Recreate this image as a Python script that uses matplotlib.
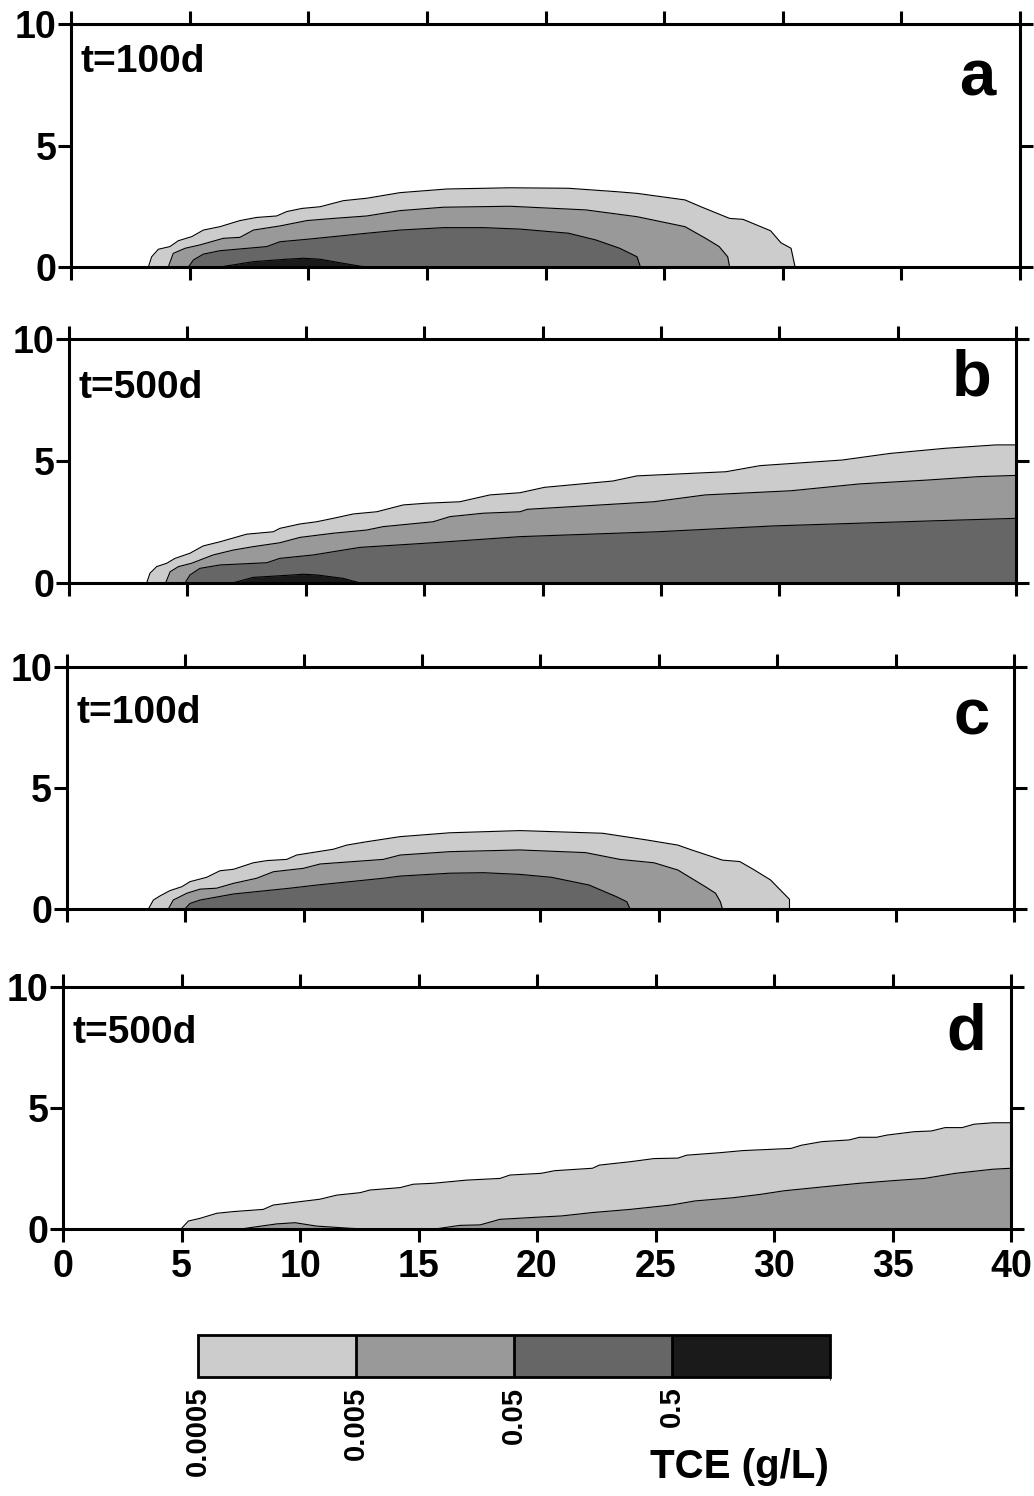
import matplotlib
matplotlib.use('Agg')
import matplotlib.pyplot as plt
import matplotlib as mpl
from matplotlib.colors import ListedColormap, BoundaryNorm

plt.rcParams['font.family'] = ['Liberation Sans', 'DejaVu Sans']
plt.rcParams['font.weight'] = 'bold'

# ---------------- data (contour boundaries: distance x, height y) ----------------
x_ticks = [0, 5, 10, 15, 20, 25, 30, 35, 40]
y_ticks = [0, 5, 10]
level_colors = ['#cccccc', '#999999', '#666666', '#1a1a1a']
level_bounds = [0.0005, 0.005, 0.05, 0.5, 5.0]
cbar_labels = ['0.0005', '0.005', '0.05', '0.5']
cbar_title = 'TCE (g/L)'
panel_letters = ['a', 'b', 'c', 'd']
panel_times = ['t=100d', 't=500d', 't=100d', 't=500d']

# panel a
a_l1_x = [3.26, 3.40, 3.68, 4.17, 4.52, 5.09, 5.58, 6.28, 7.12, 7.83, 8.67, 9.09, 9.73, 10.50, 11.48, 12.47, 13.87, 15.84, 18.50, 20.97, 22.99, 23.86, 25.88, 26.60, 27.76, 28.33, 29.49, 29.92, 30.35, 30.52]
a_l1_y = [0, 0.42, 0.73, 0.84, 1.08, 1.25, 1.52, 1.66, 1.91, 2.04, 2.10, 2.28, 2.41, 2.48, 2.73, 2.83, 3.06, 3.21, 3.26, 3.24, 3.10, 3.03, 2.76, 2.46, 2.00, 1.96, 1.49, 1.00, 0.77, 0]
a_l2_x = [4.10, 4.31, 4.81, 5.44, 6.42, 7.12, 7.69, 8.81, 9.94, 11.06, 12.47, 13.87, 15.70, 18.50, 21.70, 23.86, 25.88, 26.75, 27.32, 27.68, 27.76]
a_l2_y = [0, 0.56, 0.77, 0.91, 1.18, 1.22, 1.52, 1.69, 1.91, 2.00, 2.10, 2.32, 2.46, 2.50, 2.35, 2.07, 1.66, 1.18, 0.84, 0.42, 0]
a_l3_x = [4.95, 5.16, 5.58, 6.28, 8.25, 8.81, 9.94, 11.06, 12.47, 13.87, 15.70, 17.38, 18.93, 20.97, 22.13, 23.13, 23.86, 24.00]
a_l3_y = [0, 0.29, 0.53, 0.67, 0.84, 1.04, 1.14, 1.25, 1.39, 1.52, 1.62, 1.62, 1.56, 1.39, 1.11, 0.77, 0.42, 0]
a_l4_x = [6.28, 7.69, 9.09, 9.79, 10.50, 11.48, 12.40]
a_l4_y = [0, 0.22, 0.32, 0.36, 0.32, 0.15, 0]

# panel b
b_l1_x = [3.28, 3.42, 3.70, 4.13, 4.48, 5.11, 5.67, 6.38, 7.50, 8.63, 8.91, 9.76, 10.46, 11.16, 12.01, 13.00, 14.12, 15.10, 16.51, 17.78, 19.05, 20.08, 22.97, 23.99, 27.75, 29.19, 32.66, 34.68, 37.00, 39.16, 40.0]
b_l1_y = [0, 0.40, 0.67, 0.81, 1.01, 1.22, 1.52, 1.69, 2.00, 2.10, 2.24, 2.42, 2.51, 2.65, 2.83, 2.92, 3.20, 3.27, 3.33, 3.61, 3.70, 3.92, 4.18, 4.39, 4.56, 4.81, 5.04, 5.31, 5.52, 5.66, 5.66]
b_l2_x = [4.08, 4.27, 4.62, 5.18, 6.09, 6.94, 7.78, 8.91, 9.76, 11.16, 12.57, 13.27, 15.38, 16.09, 17.50, 19.05, 19.36, 24.70, 26.87, 30.49, 33.38, 36.27, 38.43, 40.0]
b_l2_y = [0, 0.46, 0.67, 0.81, 1.15, 1.35, 1.49, 1.65, 1.87, 2.04, 2.17, 2.31, 2.51, 2.72, 2.86, 2.92, 3.02, 3.33, 3.61, 3.78, 4.06, 4.22, 4.36, 4.41]
b_l3_x = [4.90, 5.11, 5.53, 6.38, 8.35, 8.91, 10.32, 12.29, 15.38, 19.05, 24.85, 29.77, 36.56, 40.0]
b_l3_y = [0, 0.33, 0.60, 0.74, 0.83, 1.01, 1.15, 1.46, 1.65, 1.90, 2.10, 2.34, 2.55, 2.65]
b_l4_x = [6.90, 7.78, 9.47, 9.90, 10.46, 11.58, 12.29]
b_l4_y = [0, 0.23, 0.33, 0.36, 0.33, 0.19, 0]

# panel c
c_l1_x = [3.45, 3.66, 3.94, 4.36, 4.86, 5.21, 5.91, 6.47, 7.04, 7.88, 8.45, 9.29, 9.71, 11.26, 11.82, 12.67, 14.08, 16.19, 19.14, 22.63, 24.51, 25.81, 26.39, 27.69, 28.42, 28.99, 29.72, 30.52, 30.52]
c_l1_y = [0, 0.37, 0.54, 0.76, 0.92, 1.13, 1.31, 1.58, 1.64, 1.91, 2.00, 2.05, 2.23, 2.47, 2.64, 2.78, 2.99, 3.15, 3.24, 3.13, 2.85, 2.64, 2.44, 2.02, 1.96, 1.64, 1.20, 0.40, 0]
c_l2_x = [4.29, 4.50, 5.07, 5.63, 6.33, 7.04, 8.02, 8.73, 9.99, 10.70, 13.37, 14.08, 16.19, 19.14, 21.91, 23.36, 24.80, 25.81, 26.97, 27.40, 27.60, 27.69]
c_l2_y = [0, 0.37, 0.65, 0.82, 0.86, 1.06, 1.27, 1.54, 1.68, 1.86, 2.05, 2.23, 2.37, 2.44, 2.33, 2.05, 1.91, 1.61, 0.92, 0.65, 0.30, 0]
c_l3_x = [4.99, 5.21, 5.63, 7.04, 9.43, 10.56, 11.96, 13.37, 14.08, 16.19, 17.59, 19.14, 20.47, 22.06, 23.21, 23.65, 23.79]
c_l3_y = [0, 0.23, 0.37, 0.62, 0.86, 0.99, 1.13, 1.27, 1.36, 1.48, 1.50, 1.43, 1.31, 0.99, 0.51, 0.30, 0]

# panel d
d_l1_x = [4.98, 5.29, 5.78, 6.49, 7.19, 8.45, 8.87, 10.00, 10.84, 11.55, 12.53, 12.95, 14.22, 14.78, 15.63, 17.03, 18.44, 18.86, 20.17, 20.75, 22.34, 22.63, 23.93, 24.94, 25.95, 26.31, 27.68, 28.69, 30.72, 31.15, 32.02, 33.17, 33.61, 34.33, 34.76, 35.91, 36.64, 37.22, 37.94, 38.44, 39.24, 40.0]
d_l1_y = [0, 0.33, 0.44, 0.65, 0.72, 0.81, 0.99, 1.13, 1.23, 1.40, 1.50, 1.61, 1.71, 1.85, 1.89, 2.02, 2.09, 2.23, 2.30, 2.41, 2.51, 2.64, 2.78, 2.91, 2.93, 3.05, 3.15, 3.24, 3.33, 3.46, 3.61, 3.68, 3.79, 3.79, 3.88, 4.02, 4.05, 4.19, 4.19, 4.33, 4.39, 4.39]
d_l2_x = [7.50, 9.01, 9.79, 10.70, 12.10, 12.80, 15.70, 16.75, 17.60, 18.44, 19.88, 21.04, 22.34, 23.93, 25.66, 26.67, 28.26, 29.42, 30.43, 32.16, 33.61, 35.05, 36.35, 37.65, 39.24, 40.0]
d_l2_y = [0, 0.21, 0.26, 0.12, 0.03, 0, 0, 0.15, 0.17, 0.40, 0.48, 0.54, 0.68, 0.81, 0.99, 1.16, 1.29, 1.43, 1.58, 1.75, 1.89, 2.00, 2.09, 2.30, 2.47, 2.51]

panel_levels = [
    [(a_l1_x, a_l1_y), (a_l2_x, a_l2_y), (a_l3_x, a_l3_y), (a_l4_x, a_l4_y)],
    [(b_l1_x, b_l1_y), (b_l2_x, b_l2_y), (b_l3_x, b_l3_y), (b_l4_x, b_l4_y)],
    [(c_l1_x, c_l1_y), (c_l2_x, c_l2_y), (c_l3_x, c_l3_y)],
    [(d_l1_x, d_l1_y), (d_l2_x, d_l2_y)],
]

# ---------------- layout (pixel boxes of each panel) ----------------
W, H = 1034, 1496
panel_px = [  # left, right, top, bottom
    (71, 1020, 24, 267),
    (69, 1016, 339, 583),
    (66.7, 1014, 667, 909),
    (63, 1011, 987, 1229),
]
time_pos = [(0.010, 0.804), (0.010, 0.758), (0.010, 0.769), (0.010, 0.769)]
letter_pos = [(0.974, 0.704), (0.974, 0.770), (0.974, 0.723), (0.974, 0.740)]

fig = plt.figure(figsize=(W / 100, H / 100), dpi=100)
LW = 2.2
for i, (l, r, t, b) in enumerate(panel_px):
    ax = fig.add_axes([l / W, 1 - b / H, (r - l) / W, (b - t) / H])
    for k, (xs, ys) in enumerate(panel_levels[i]):
        ax.fill_between(xs, 0, ys, color=level_colors[k], linewidth=0, zorder=1 + k * 0.1)
        ax.plot(xs, ys, color='black', linewidth=0.8, zorder=1.05 + k * 0.1)
    ax.set_xlim(0, 40)
    ax.set_ylim(0, 10)
    ax.set_xticks(x_ticks)
    ax.set_yticks(y_ticks)
    ax.tick_params(direction='out', length=9.5, width=LW, top=True, right=True,
                   labelsize=27, pad=1)
    ax.tick_params(axis='x', pad=5)
    if i < 3:
        ax.tick_params(axis='x', labelbottom=False)
    ax.set_yticklabels([str(v) for v in y_ticks], fontweight='bold')
    ax.set_xticklabels([str(v) for v in x_ticks], fontweight='bold')
    for s in ax.spines.values():
        s.set_linewidth(LW)
    ax.text(time_pos[i][0], time_pos[i][1], panel_times[i], transform=ax.transAxes,
            fontsize=28, fontweight='bold', ha='left', va='baseline')
    ax.text(letter_pos[i][0], letter_pos[i][1], panel_letters[i], transform=ax.transAxes,
            fontsize=47, fontweight='bold', ha='right', va='baseline')

# ---------------- colour bar ----------------
cax = fig.add_axes([198 / W, 1 - 1377 / H, 632 / W, 42 / H])
cmap = ListedColormap(level_colors)
norm = BoundaryNorm(level_bounds, cmap.N)
cb = mpl.colorbar.ColorbarBase(cax, cmap=cmap, norm=norm, orientation='horizontal',
                               spacing='uniform', ticks=level_bounds[:4], drawedges=True)
cb.outline.set_linewidth(2.0)
cb.dividers.set_linewidth(2.0)
cb.dividers.set_color('black')
cax.set_xticklabels(cbar_labels, rotation=90, fontsize=21, fontweight='bold')
cax.tick_params(length=0, pad=7)
fig.text(650 / W, 1 - 1478 / H, cbar_title, fontsize=29, fontweight='bold',
         ha='left', va='baseline')

fig.savefig('out.png', dpi=100)
